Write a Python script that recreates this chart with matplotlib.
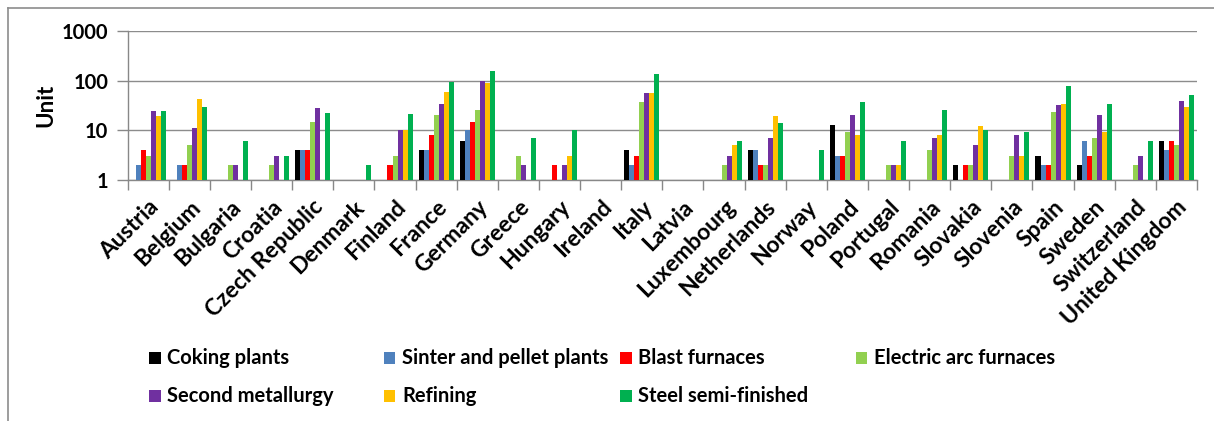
import numpy as np
import matplotlib
matplotlib.use("Agg")
import matplotlib.pyplot as plt
from matplotlib.patches import Rectangle
from matplotlib.lines import Line2D

plt.rcParams['font.family'] = ['Lato', 'DejaVu Sans']
plt.rcParams['font.weight'] = 'bold'

countries = ["Austria", "Belgium", "Bulgaria", "Croatia", "Czech Republic", "Denmark",
             "Finland", "France", "Germany", "Greece", "Hungary", "Ireland", "Italy",
             "Latvia", "Luxembourg", "Netherlands", "Norway", "Poland", "Portugal",
             "Romania", "Slovakia", "Slovenia", "Spain", "Sweden", "Switzerland",
             "United Kingdom"]

series_names = ["Coking plants", "Sinter and pellet plants", "Blast furnaces",
                "Electric arc furnaces", "Second metallurgy", "Refining",
                "Steel semi-finished"]
colors = ["#000000", "#4F81BD", "#FF0000", "#92D050", "#7030A0", "#FFC000", "#00B050"]

# 0 = no bar
coking   = [0, 0, 0, 0, 4, 0, 0, 4, 6, 0, 0, 0, 4, 0, 0, 4, 0, 13, 0, 0, 2, 0, 3, 2, 0, 6]
sinter   = [2, 2, 0, 0, 4, 0, 0, 4, 10, 0, 0, 0, 2, 0, 0, 4, 0, 3, 0, 0, 0, 0, 2, 6, 0, 4]
blast    = [4, 2, 0, 0, 4, 0, 2, 8, 15, 0, 2, 0, 3, 0, 0, 2, 0, 3, 0, 0, 2, 0, 2, 3, 0, 6]
eaf      = [3, 5, 2, 2, 15, 0, 3, 20, 26, 3, 0, 0, 37, 0, 2, 2, 0, 9, 2, 4, 2, 3, 23, 7, 2, 5]
second   = [24, 11, 2, 3, 28, 0, 10, 34, 100, 2, 2, 0, 57, 0, 3, 7, 0, 20, 2, 7, 5, 8, 33, 20, 3, 39]
refining = [19, 42, 0, 0, 0, 0, 10, 60, 91, 0, 3, 0, 57, 0, 5, 19, 0, 8, 2, 8, 12, 3, 34, 9, 0, 30]
steel    = [25, 30, 6, 3, 22, 2, 21, 96, 155, 7, 10, 0, 136, 0, 6, 14, 4, 37, 6, 26, 10, 9, 80, 34, 6, 52]

all_series = [coking, sinter, blast, eaf, second, refining, steel]

W, H = 1214, 421
fig = plt.figure(figsize=(W / 100, H / 100), dpi=100)
ax = fig.add_axes([127.7 / W, 1 - 179.7 / H, (1197 - 127.7) / W, (179.7 - 31.3) / H])

n = len(countries)
x = np.arange(n)
bw = 0.122
for i, (vals, c) in enumerate(zip(all_series, colors)):
    v = np.array(vals, dtype=float)
    v[v <= 0] = np.nan
    ax.bar(x + (i - 3) * bw, v, width=bw, color=c, edgecolor='none', zorder=3)

ax.set_yscale('log')
ax.set_ylim(1, 1000)
ax.set_xlim(-0.5, n - 0.5)
ax.set_yticks([1, 10, 100, 1000])
ax.set_yticklabels(["1", "10", "100", "1000"])
ax.yaxis.set_minor_locator(matplotlib.ticker.NullLocator())
ax.tick_params(axis='y', which='major', length=8, width=1, color='#888888',
               labelsize=14.5, pad=6)
ax.grid(axis='y', which='major', color='#8C8C8C', linewidth=1, zorder=0)

ax.set_xticks(x)
ax.set_xticklabels(countries, rotation=45, ha='right', rotation_mode='anchor', fontsize=16.5)
ax.tick_params(axis='x', which='major', length=0, pad=12)
ax.set_xticks(np.arange(-0.5, n), minor=True)
ax.tick_params(axis='x', which='minor', length=7, width=1, color='#888888')

for s in ['top', 'right']:
    ax.spines[s].set_visible(False)
for s in ['left', 'bottom']:
    ax.spines[s].set_color('#888888')
    ax.spines[s].set_linewidth(1)

ax.set_ylabel("Unit", fontsize=16, fontweight='bold', labelpad=4)

# chart border (left and top visible)
fig.add_artist(Line2D([7.5 / W, 7.5 / W], [0, 1 - 7.5 / H], color='#8C8C8C', lw=1.2))
fig.add_artist(Line2D([7.5 / W, 1], [1 - 7.5 / H, 1 - 7.5 / H], color='#8C8C8C', lw=1.2))

# legend, laid out like the reference
leg_x = [149.3, 384.0, 620.0, 855.7, 149.3, 384.0, 620.0]
leg_y = [357.8, 357.8, 357.8, 357.8, 395.8, 395.8, 395.8]
sq = 11.5
for name, c, lx, ly in zip(series_names, colors, leg_x, leg_y):
    fig.add_artist(Rectangle((lx / W, 1 - (ly + sq / 2) / H), sq / W, sq / H,
                             facecolor=c, edgecolor='none'))
    fig.text((lx + sq + 6.5) / W, 1 - ly / H, name, fontsize=14.5, fontweight='bold',
             va='center', ha='left')

fig.savefig("out.png", dpi=100)
